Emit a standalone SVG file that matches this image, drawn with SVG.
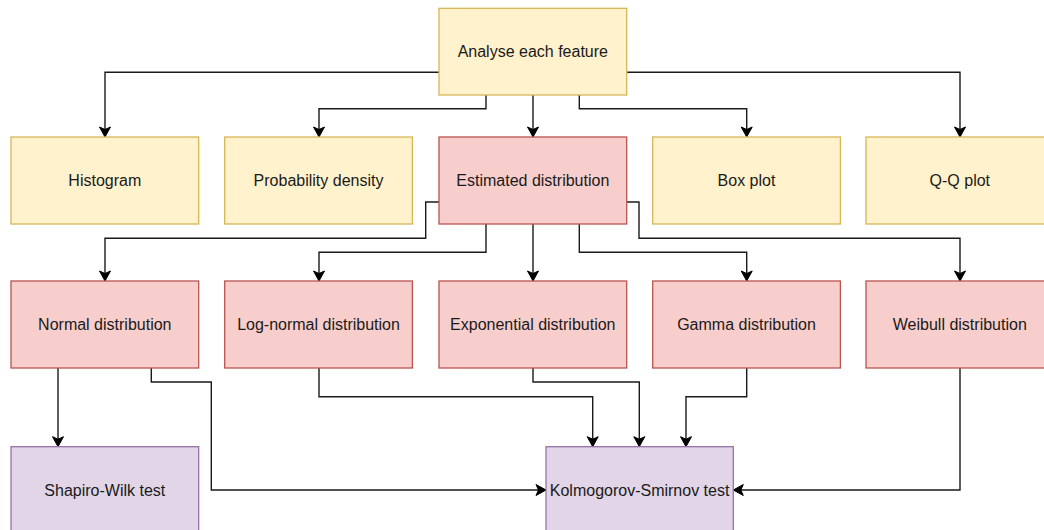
<svg xmlns="http://www.w3.org/2000/svg" width="1044" height="530" viewBox="0 0 1044 530">
<style>
.y{fill:#fff2cc;stroke:#d6b656;stroke-width:1.3}
.r{fill:#f8cecc;stroke:#b85450;stroke-width:1.3}
.p{fill:#e1d5e7;stroke:#9673a6;stroke-width:1.3}
text{font-family:"Liberation Sans",Arial,sans-serif;font-size:16px;fill:#1a1a1a;text-anchor:middle}
.c path{fill:none;stroke:#1a1a1a;stroke-width:1.4;marker-end:url(#a)}
</style>
<defs>
<marker id="a" markerUnits="userSpaceOnUse" markerWidth="14" markerHeight="14" refX="11" refY="7" orient="auto">
<path d="M1,1.5 L11,7 L1,12.5 L3.5,7 Z" fill="#000" stroke="#000" stroke-width="1"/>
</marker>
</defs>
<g class="c" id="connectors">
<path d="M439,72.3 H105 V137"/>
<path d="M626.7,72.3 H960 V137"/>
<path d="M486,95 V108.7 H319 V137"/>
<path d="M533,95 V137"/>
<path d="M579.3,95 V108.7 H746.7 V137"/>
<path d="M439,202 H425.7 V238.3 H105 V281"/>
<path d="M486,224 V252.3 H319 V281"/>
<path d="M533,224 V281"/>
<path d="M579.3,224 V252.3 H746.7 V281"/>
<path d="M626.7,202 H639 V238.3 H960 V281"/>
<path d="M58,368 V446.7"/>
<path d="M151.3,368 V382 H211.3 V490 H546"/>
<path d="M319,368 V396.7 H592.7 V446.7"/>
<path d="M533,368 V382 H639.3 V446.7"/>
<path d="M746.7,368 V396.7 H686 V446.7"/>
<path d="M960,368 V490 H733.3"/>
</g>
<g id="analyse"><rect class="y" x="439" y="8.3" width="187.7" height="86.7"/><text x="532.8" y="57">Analyse each feature</text></g>
<g id="histogram"><rect class="y" x="11" y="137" width="187.7" height="87"/><text x="104.8" y="186">Histogram</text></g>
<g id="probdensity"><rect class="y" x="224.7" y="137" width="187.7" height="87"/><text x="318.5" y="186">Probability density</text></g>
<g id="estimated"><rect class="r" x="439" y="137" width="187.7" height="87"/><text x="532.8" y="186">Estimated distribution</text></g>
<g id="boxplot"><rect class="y" x="652.7" y="137" width="187.7" height="87"/><text x="746.5" y="186">Box plot</text></g>
<g id="qqplot"><rect class="y" x="866" y="137" width="187.7" height="87"/><text x="959.8" y="186">Q-Q plot</text></g>
<g id="normal"><rect class="r" x="11" y="281" width="187.7" height="87"/><text x="104.8" y="330">Normal distribution</text></g>
<g id="lognormal"><rect class="r" x="224.7" y="281" width="187.7" height="87"/><text x="318.5" y="330">Log-normal distribution</text></g>
<g id="exponential"><rect class="r" x="439" y="281" width="187.7" height="87"/><text x="532.8" y="330">Exponential distribution</text></g>
<g id="gamma"><rect class="r" x="652.7" y="281" width="187.7" height="87"/><text x="746.5" y="330">Gamma distribution</text></g>
<g id="weibull"><rect class="r" x="866" y="281" width="187.7" height="87"/><text x="959.8" y="330">Weibull distribution</text></g>
<g id="shapiro"><rect class="p" x="11" y="446.7" width="187.7" height="87"/><text x="104.8" y="495.5">Shapiro-Wilk test</text></g>
<g id="ks"><rect class="p" x="546" y="446.7" width="187.3" height="87"/><text x="639.6" y="495.5">Kolmogorov-Smirnov test</text></g>
</svg>
